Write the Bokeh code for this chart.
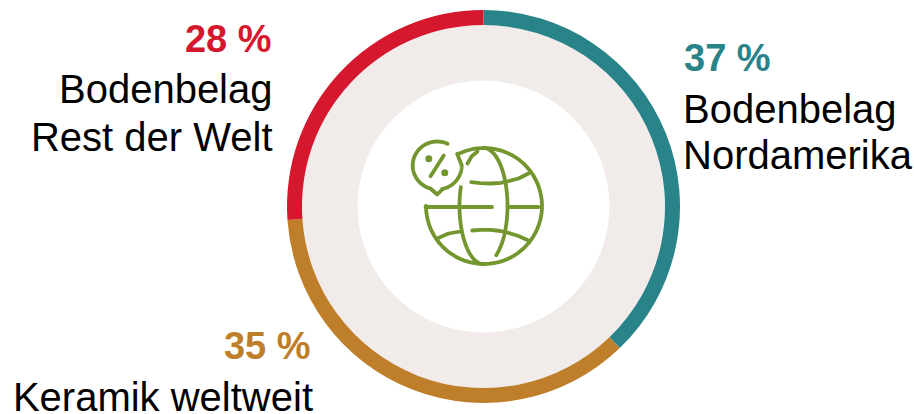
import numpy as np
from bokeh.plotting import figure
from bokeh.models import Range1d
from bokeh.core.properties import value
from bokeh.embed import file_html
from bokeh.resources import INLINE

# Data
segments = ["Bodenbelag Nordamerika", "Keramik weltweit", "Bodenbelag Rest der Welt"]
arc_shares = [37.8, 36.1, 26.1]          # arc lengths as drawn in the picture (%)
percent_labels = ["37 %", "35 %", "28 %"]
label_lines = [["Bodenbelag", "Nordamerika"], ["Keramik weltweit"], ["Bodenbelag", "Rest der Welt"]]
colors = ["#29848A", "#BF7F2A", "#D6182F"]

W, H = 914, 414
p = figure(width=W, height=H, output_backend="svg", toolbar_location=None,
           x_range=Range1d(0, W), y_range=Range1d(H, 0), min_border=0)
p.axis.visible = False
p.grid.visible = False
p.outline_line_color = None
p.background_fill_color = "white"
p.border_fill_color = "white"

cx, cy = 483, 206
R_out, R_ring, R_in = 196.5, 181.5, 126

# Pale band
p.annular_wedge([cx], [cy], inner_radius=R_in, outer_radius=R_ring, start_angle=0, end_angle=2*np.pi,
                fill_color="#F1ECEA", line_color=None)

# Arcs, clockwise from the top
start = np.pi / 2
for share, col in zip(arc_shares, colors):
    end = start - share / 100 * 2 * np.pi
    p.annular_wedge([cx], [cy], inner_radius=R_ring, outer_radius=R_out,
                    start_angle=start, end_angle=end, direction="clock",
                    fill_color=col, line_color=None)
    start = end

def txt(x, y, s, size, color, align, bold=False):
    p.text([x], [y], text=[s], text_font=value("Liberation Sans"), text_font_size=size,
           text_color=color, text_align=align, text_baseline="middle",
           text_font_style="bold" if bold else "normal")

OFF = 14
txt(683.5, 71.5 - OFF, percent_labels[0], "38px", colors[0], "left", True)
txt(682.5, 122 - OFF, label_lines[0][0], "40px", "black", "left")
txt(682.5, 168 - OFF, label_lines[0][1], "40px", "black", "left")
txt(271, 52 - OFF, percent_labels[2], "38px", colors[2], "right", True)
txt(272, 102 - OFF, label_lines[2][0], "40px", "black", "right")
txt(272, 150 - OFF, label_lines[2][1], "40px", "black", "right")
txt(310, 359 - OFF, percent_labels[1], "38px", colors[1], "right", True)
txt(312.5, 410 - OFF, label_lines[1][0], "40px", "black", "right")

# Globe icon
G = "#74962F"
lw = 3.8
def arc(cxa, cya, rx, ry, a0, a1, n=60):
    t = np.radians(np.linspace(a0, a1, n))
    return cxa + rx*np.cos(t), cya + ry*np.sin(t)
def line(xs, ys):
    p.line(list(xs), list(ys), line_color=G, line_width=lw, line_cap="round", line_join="round")

# Outer globe
line(*arc(483.5, 205.5, 58, 58, -117, 180))
# Meridians
line(*arc(483, 205.5, 24, 58, -90, 58))
line(*arc(483, 205.5, 24, 58, 90, 199))
line([467, 471, 477], [163, 156, 151])
# Equator
line([425, 491.5], [206.5, 206.5])
line([508, 538], [206.5, 206.5])
# Upper latitude
line([470.7, 480, 490, 500, 506.7, 518, 528], [181.7, 182.7, 183, 182.3, 181, 178, 173])
# Lower latitude
line([471.7, 480, 490, 500, 506.7, 518, 528], [230, 229.3, 229.3, 230.5, 232, 235.5, 240])
line([436.7, 448, 460], [238, 233, 231])
# Speech bubble
line(*arc(436.7, 165, 24.5, 24, 107, 295))
bx, by = arc(436.7, 165, 24.5, 24, 78, 0)
line(list(bx) + [456.7], list(by) + [153.3])
line([430, 436.7, 441.7], [188, 194, 189])
# Percent sign
line([443.3, 430], [155, 175.7])
p.scatter([428.3, 444.3], [158.3, 172.3], size=7, fill_color=G, line_color=None)

open("out.html", "w").write(file_html(p, INLINE))
